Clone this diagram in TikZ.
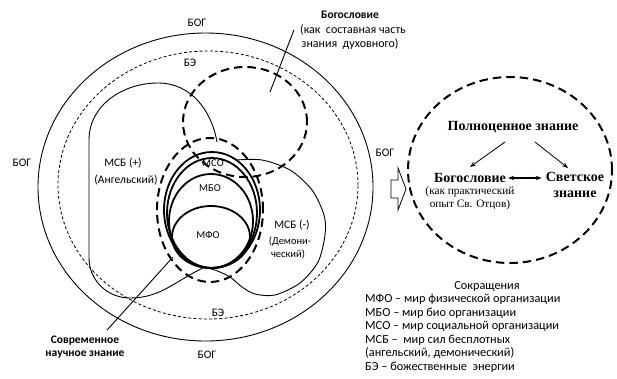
\documentclass[tikz,border=0pt]{standalone}
\usepackage{fontspec}
\setmainfont{Carlito}
\newfontfamily\rmserif{Liberation Serif}
\usetikzlibrary{arrows.meta}
\begin{document}
\begin{tikzpicture}[x=1pt,y=-1pt,
  lab/.style={font=\fontsize{11.5}{13.5}\selectfont, inner sep=0pt},
  alab/.style={font=\fontsize{12.3}{13.5}\selectfont, inner sep=0pt},
  tlab/.style={font=\fontsize{12}{13.5}\selectfont, inner sep=0pt},
  slab/.style={font=\fontsize{10.5}{12}\selectfont, inner sep=0pt},
  blab/.style={font=\fontsize{11.5}{13.5}\selectfont\bfseries, inner sep=0pt},
  heavydash/.style={line width=2pt, dash pattern=on 8.5pt off 5pt},
  energy/.style={line width=0.8pt, dash pattern=on 3pt off 2.2pt},
  thinline/.style={line width=0.9pt},
  world/.style={line width=1.8pt},
  ser/.style={font=\rmserif\fontsize{14}{15.5}\selectfont\bfseries, inner sep=0pt},
  sersm/.style={font=\rmserif\fontsize{11.3}{12}\selectfont, inner sep=0pt},
  arr/.style={-{Stealth[length=6pt,width=4.5pt]}, line width=0.8pt},
  darr/.style={{Stealth[length=6pt,width=4.5pt]}-{Stealth[length=6pt,width=4.5pt]}, line width=1.1pt},
]
\path[use as bounding box] (0,0) rectangle (617,378);

% God and divine energies
\draw[thinline] (205.5,187) ellipse [x radius=167.5pt, y radius=154pt];
\draw[energy] (208,185) ellipse [x radius=150pt, y radius=134pt];

% Theology circle
\draw[heavydash] (245,122) ellipse [x radius=62pt, y radius=55pt];

% MSB (+)
\draw[thinline] (217,142) to[out=100,in=0] (158,83) to[out=180,in=90] (89,140)
  -- (89,258) to[out=-90,in=180] (130,298) to[out=0,in=-155] (203,268);

% MSB (-)
\draw[thinline] plot[smooth] coordinates {(236,160) (262,160) (290,170) (312,190) (324,215) (325,235) (318,262) (300,283) (275,295) (255,294) (242,287) (230,277) (215,270) (205,268)};

% Scientific knowledge
\draw[heavydash] (210,210) ellipse [x radius=53pt, y radius=72pt];

% worlds
\draw[world] (212,210) ellipse [x radius=48pt, y radius=58pt];
\draw[world] (212,213) ellipse [x radius=45pt, y radius=55pt];
\draw[world] (211,221) ellipse [x radius=42pt, y radius=47pt];
\draw[world] (211,237) ellipse [x radius=39pt, y radius=31pt];

% labels
\node[lab] (god1) at (197,23) {БОГ};
\node[lab] (god2) at (22,163) {БОГ};
\node[lab] (god3) at (207,355) {БОГ};
\node[lab] (god4) at (385,153) {БОГ};
\node[lab] (be1) at (190,63) {БЭ};
\node[lab] (be2) at (218,313) {БЭ};
\node[lab] (msbp) at (123,163) {МСБ (+)};
\node[lab] (ang) at (126,180) {(Ангельский)};
\node[slab] (mso) at (213,163) {МСО};
\node[slab] (mbo) at (210,188) {МБО};
\node[slab] (mfo) at (208,235) {МФО};
\node[lab] (msbm) at (292,225) {МСБ (-)};
\node[slab] (dem1) at (290,241) {(Демони-};
\node[slab] (dem2) at (288,254) {ческий)};

\node[blab] (bog1) at (350,15) {Богословие};
\node[tlab] (bog2) at (353,30) {(как\ \ составная часть};
\node[tlab] (bog3) at (350,44) {знания\ \ духовного)};
\coordinate (bogtip) at (270,92);
\draw[thinline] (bog2.west) ++(-6,0) -- (bogtip);

\node[blab] (sov1) at (85,341) {Современное};
\node[blab] (sov2) at (85,355) {научное знание};
\coordinate (sovtip) at (173,257);
\draw[thinline] (sov1.north) ++(22,-6) -- (sovtip);

% block arrow
\draw[line width=0.8pt, fill=white] (391,180) -- (398,180) -- (398,168) -- (406,189)
  -- (398,210) -- (398,198) -- (391,198) -- cycle;

% right panel
\draw[heavydash] (510,170) ellipse [x radius=102pt, y radius=93pt];
\node[ser] (full) at (513,127) {Полноценное знание};
\node[ser] (theo) at (470,178) {Богословие};
\node[sersm] (theo2) at (470,192) {(как практический};
\node[sersm] (theo3) at (470,205) {опыт Св. Отцов)};
\node[ser, align=center] (sec) at (575,185) {Светское\\знание};
\draw[arr] ([shift={(-8,15)}]full.center) -- ([shift={(0,-11)}]theo.center);
\draw[arr] ([shift={(22,15)}]full.center) -- ([shift={(-7,-17)}]sec.center);
\draw[darr] (theo.east) ++(2,0) -- ([xshift=-4pt]sec.west |- theo.center);

% abbreviations
\node[alab, anchor=base] (abh) at (487,289) {Сокращения};
\node[alab, anchor=base west] (ab1) at (365,302.5) {МФО – мир физической организации};
\node[alab, anchor=base west] (ab2) at (365,316) {МБО – мир био организации};
\node[alab, anchor=base west] (ab3) at (365,329.5) {МСО – мир социальной организации};
\node[alab, anchor=base west] (ab4) at (365,343) {МСБ –\ \ мир сил бесплотных};
\node[alab, anchor=base west] (ab5) at (365,356.5) {(ангельский, демонический)};
\node[alab, anchor=base west] (ab6) at (365,370) {БЭ – божественные\ \ энергии};
\end{tikzpicture}
\end{document}
